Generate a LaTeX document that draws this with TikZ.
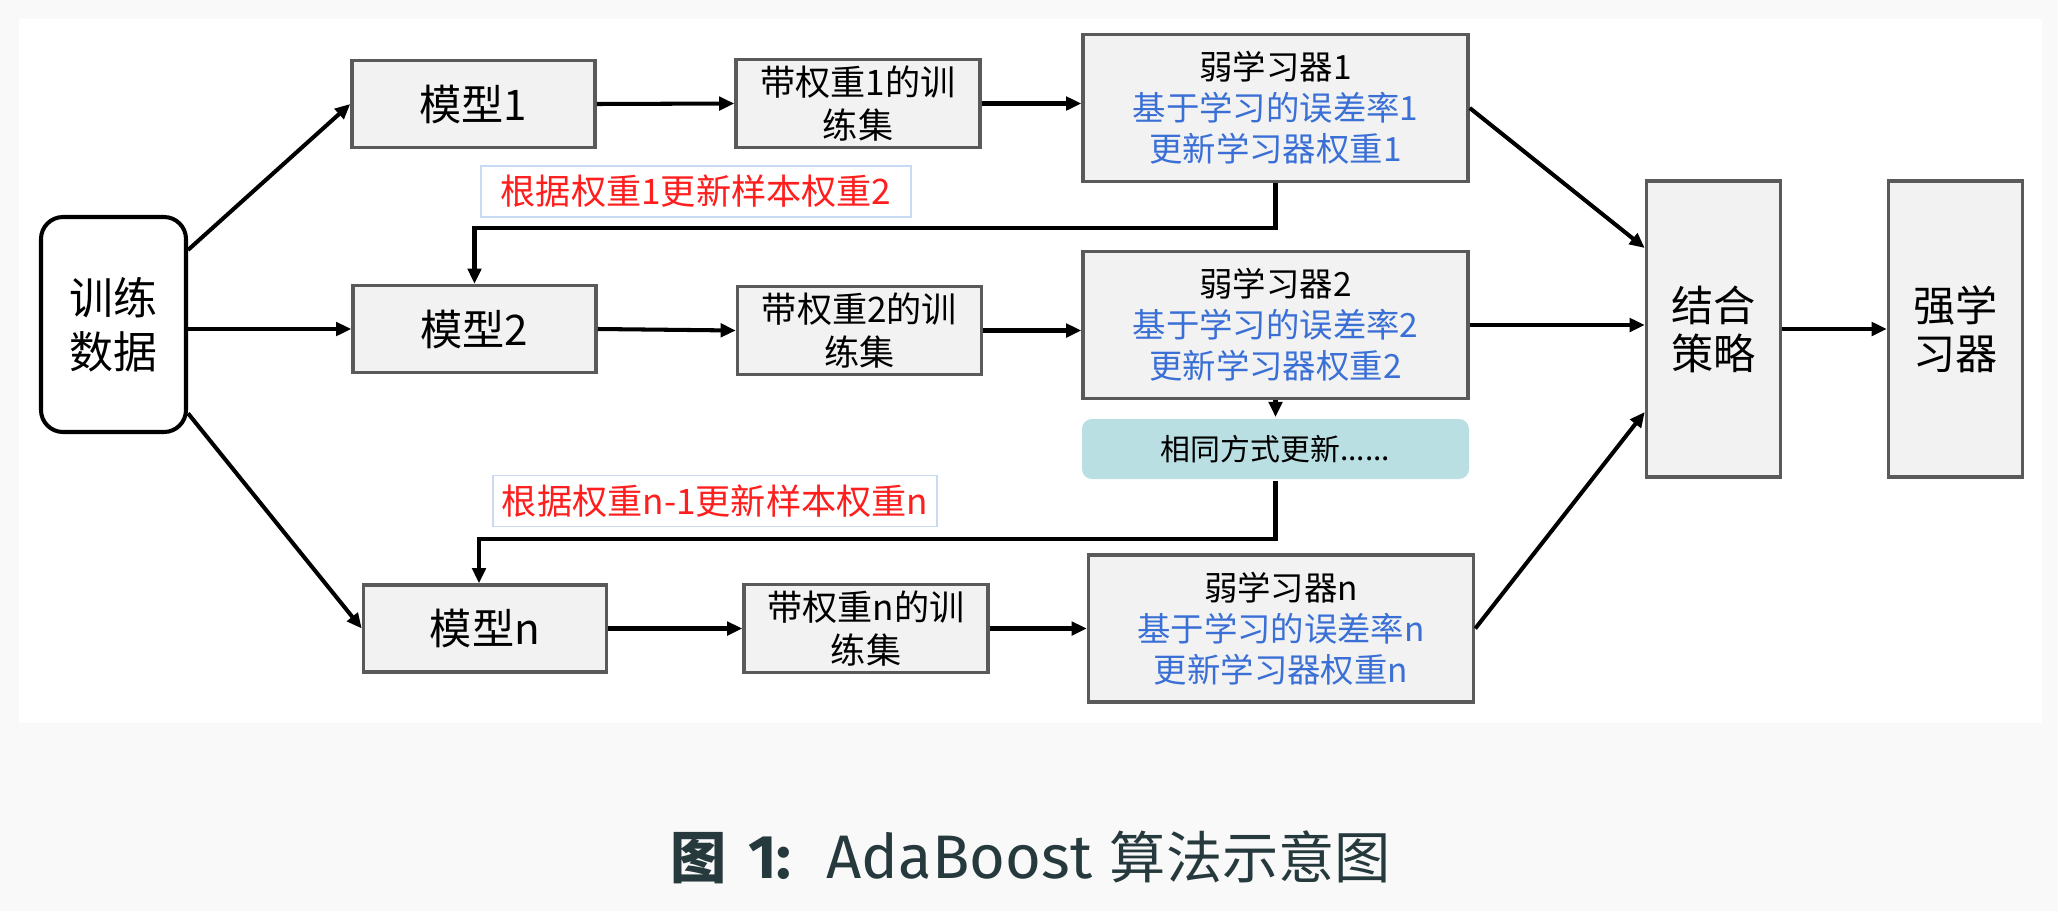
\documentclass[tikz,border=0pt]{standalone}
\usepackage{fontspec}
\setmainfont{Noto Sans CJK SC}
\newfontfamily\capfont{Fira Sans}
\usetikzlibrary{arrows.meta}
\definecolor{boxgray}{HTML}{F2F2F2}
\definecolor{edgegray}{HTML}{5A5A5A}
\definecolor{wblue}{HTML}{3A6FD6}
\definecolor{notered}{HTML}{FF1E1E}
\definecolor{samefill}{HTML}{B9DFE2}
\definecolor{labline}{HTML}{C8DBF2}
\definecolor{pagebg}{HTML}{F9F9F9}
\definecolor{capcol}{HTML}{26393C}
\newcommand{\wb}[1]{\textcolor{wblue}{#1}}
\newcommand{\capl}{\capfont\fontsize{17.5}{19}\selectfont}

\begin{document}
\begin{tikzpicture}[->, >={Triangle[length=4.3pt,width=3.8pt]}, line width=1.15pt,
    box/.style = {draw=edgegray, fill=boxgray, line width=1pt, align=center, inner sep=0pt},
    start/.style = {draw, fill=white, line width=1.15pt, rounded corners=0.22cm, align=center, inner sep=0pt,
      minimum width=1.45cm, minimum height=2.15cm, font=\fontsize{12.5}{15.5}\selectfont},
    model/.style = {box, minimum width=2.43cm, minimum height=0.87cm, font=\fontsize{12}{14}\selectfont},
    tset/.style = {box, minimum width=2.44cm, minimum height=0.88cm, font=\fontsize{10}{12}\selectfont},
    weak/.style = {box, minimum width=3.85cm, minimum height=1.47cm, font=\fontsize{9.5}{11.7}\selectfont},
    tall/.style = {box, minimum width=1.34cm, minimum height=2.96cm, font=\fontsize{12}{13.7}\selectfont},
    same/.style = {fill=samefill, rounded corners=0.1cm, inner sep=0pt, minimum width=3.87cm, minimum height=0.6cm,
      font=\fontsize{8.5}{10}\selectfont},
    note/.style = {draw=labline, fill=white, line width=0.5pt, text=notered, inner sep=0pt,
      minimum width=4.3cm, minimum height=0.51cm, font=\fontsize{10}{12}\selectfont}]
    % Background
    \fill[pagebg] (0,0) rectangle (20.58,9.11);
    \fill[white] (0.19,1.88) rectangle (20.42,8.92);
    \useasboundingbox (0,0) rectangle (20.58,9.11);

    % Nodes
    \node[start] (data) at (1.135,5.865) {训练\\数据};
    \node[model] (m1) at (4.735,8.07) {模型1};
    \node[model] (m2) at (4.745,5.82) {模型2};
    \node[model] (mn) at (4.85,2.825) {模型n};
    \node[tset] (t1) at (8.58,8.075) {带权重1的训\\练集};
    \node[tset] (t2) at (8.595,5.805) {带权重2的训\\练集};
    \node[tset] (tn) at (8.66,2.825) {带权重n的训\\练集};
    \node[weak] (w1) at (12.755,8.03) {弱学习器1\\\wb{基于学习的误差率1}\\\wb{更新学习器权重1}};
    \node[weak] (w2) at (12.755,5.86) {弱学习器2\\\wb{基于学习的误差率2}\\\wb{更新学习器权重2}};
    \node[weak] (wn) at (12.81,2.825) {弱学习器n\\\wb{基于学习的误差率n}\\\wb{更新学习器权重n}};
    \node[same] (upd) at (12.755,4.62) {相同方式更新......};
    \node[tall] (comb) at (17.135,5.82) {结合\\策略};
    \node[tall] (strong) at (19.555,5.82) {强学\\习器};
    \node[note] (lab1) at (6.96,7.195) {根据权重1更新样本权重2};
    \node[note, minimum width=4.44cm] (labn) at (7.15,4.10) {根据权重n-1更新样本权重n};
    \node[text=capcol, font=\fontsize{16}{19}\selectfont] (cap) at (10.31,0.54)
      {{\bfseries 图}\hspace{6pt}{\capl\bfseries 1:}\hspace{10pt}{\capl AdaBoost}\hspace{5pt}算法示意图};

    % Edges
    \draw (data.45) -- (m1.west);
    \draw (data.east |- m2.west) -- (m2.west);
    \draw (data.-50) -- (mn.west);
    \draw (m1.east) -- (t1.west);
    \draw (m2.east) -- (t2.west);
    \draw (mn.east) -- (tn.west);
    \draw (t1.east) -- (t1.east -| w1.west);
    \draw (t2.east) -- (t2.east -| w2.west);
    \draw (tn.east) -- (wn.west);
    \draw (w1.east) -- ([yshift=0.81cm]comb.west);
    \draw (w2.east) -- (w2.east -| comb.west);
    \draw (wn.east) -- ([yshift=-0.83cm]comb.west);
    \draw (comb) -- (strong);
    \draw (w1.south) -- ++(0,-0.45) -| (m2.north);
    \draw (w2.south) -- (upd.north);
    \draw (upd.south) -- ++(0,-0.58) -| ([xshift=-0.06cm]mn.north);
\end{tikzpicture}
\end{document}
